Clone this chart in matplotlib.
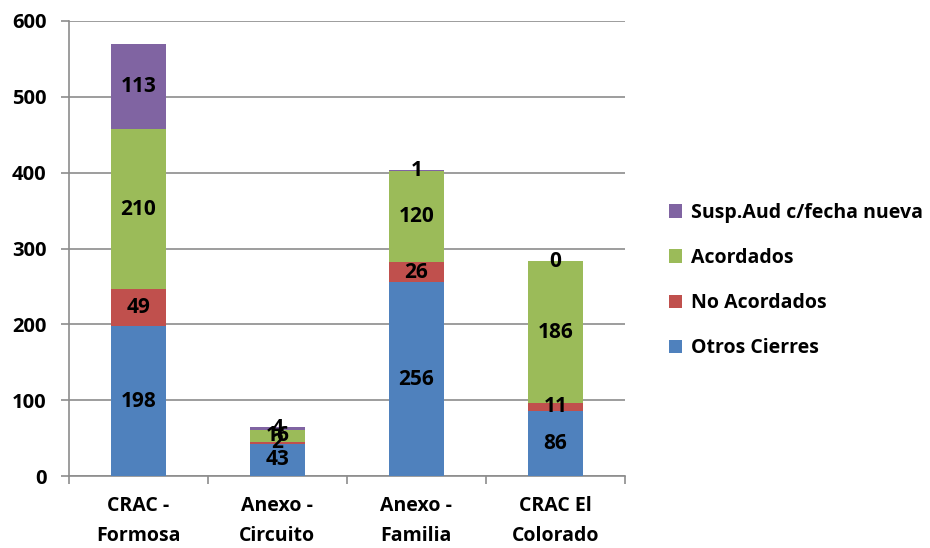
import matplotlib.pyplot as plt
import numpy as np

plt.rcParams['font.family'] = ['Open Sans', 'DejaVu Sans']
plt.rcParams['font.weight'] = 'bold'

categorias = ["CRAC -\nFormosa", "Anexo -\nCircuito", "Anexo -\nFamilia", "CRAC El\nColorado"]
otros_cierres = [198, 43, 256, 86]
no_acordados = [49, 2, 26, 11]
acordados = [210, 16, 120, 186]
susp_aud = [113, 4, 1, 0]

series = [
    ("Otros Cierres", otros_cierres, "#4F81BD"),
    ("No Acordados", no_acordados, "#C0504D"),
    ("Acordados", acordados, "#9BBB59"),
    ("Susp.Aud c/fecha nueva", susp_aud, "#8064A2"),
]

fig = plt.figure(figsize=(9.3, 5.48), dpi=100)
ax = fig.add_axes([0.074, 0.131, 0.598, 0.831])

x = np.arange(len(categorias))
bottom = np.zeros(len(categorias))
handles = []
for nombre, valores, color in series:
    vals = np.array(valores, dtype=float)
    bars = ax.bar(x, vals, 0.4, bottom=bottom, color=color, label=nombre, zorder=3)
    handles.append(bars)
    for xi, b, v in zip(x, bottom, vals):
        ax.text(xi, b + v / 2, f"{int(v)}", ha="center", va="center",
                fontsize=15, fontweight="bold", color="black", zorder=4)
    bottom += vals

ax.set_xlim(-0.5, 3.5)
ax.set_ylim(0, 600)
ax.set_yticks(range(0, 601, 100))
ax.yaxis.grid(True, color="#8c8c8c", linewidth=1.2, zorder=0)
ax.set_xticks(x)
ax.set_xticklabels(categorias, fontsize=14, fontweight="bold", linespacing=1.7)
ax.set_xticks(np.arange(-0.5, 4, 1), minor=True)
ax.tick_params(axis="x", which="major", length=0, pad=14)
ax.tick_params(axis="x", which="minor", length=6, color="#8c8c8c", width=1.2)
ax.tick_params(axis="y", length=6, color="#8c8c8c", width=1.2, labelsize=14.5, pad=10)
for lbl in ax.get_yticklabels():
    lbl.set_fontweight("bold")
for s in ["top", "right"]:
    ax.spines[s].set_visible(False)
for s in ["left", "bottom"]:
    ax.spines[s].set_color("#8c8c8c")
    ax.spines[s].set_linewidth(1.2)

fig.legend(handles[::-1], [s[0] for s in series][::-1], loc="center left",
           bbox_to_anchor=(0.7, 0.488), frameon=False,
           handlelength=0.7, handleheight=0.7, handletextpad=0.45,
           labelspacing=1.3, prop={"weight": "bold", "size": 14})

fig.savefig("out.png", dpi=100)
